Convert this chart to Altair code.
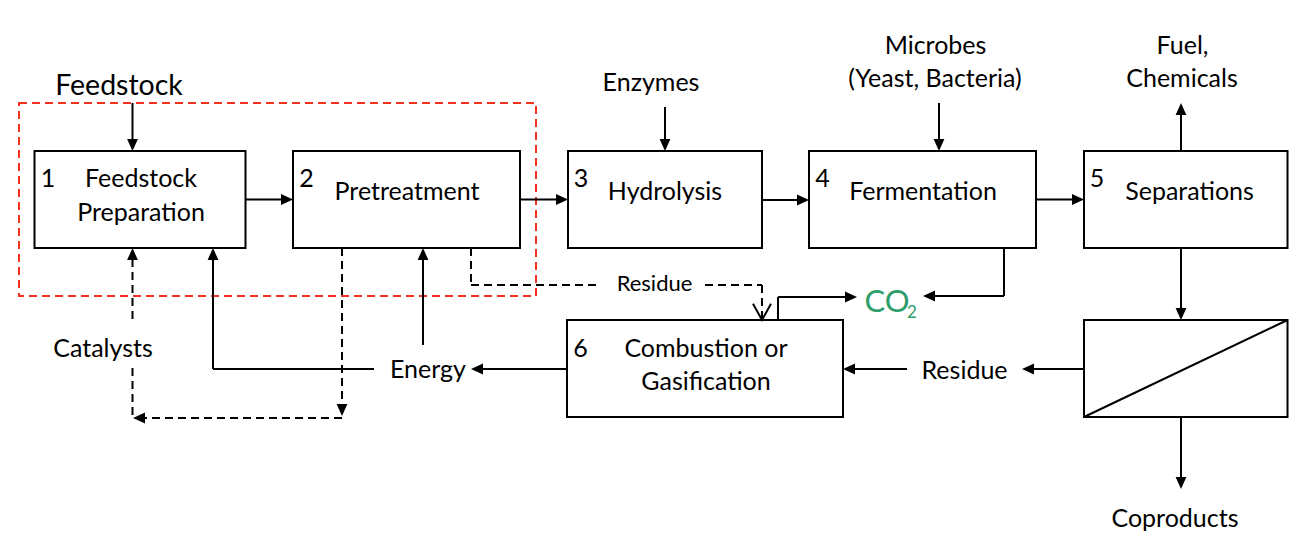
import altair as alt
import pandas as pd

# ---------------- canvas (screen pixel coordinates) ----------------
W, H = 1281, 540
X_DOM = [8, 8 + W]
Y_DOM = [8, 8 + H]
FONT = "Lato"

# ---------------- process boxes ----------------
box_name = ["1", "2", "3", "4", "5", "6", "sep"]
box_x0 = [34.5, 293, 568, 809, 1084, 567, 1084]
box_x1 = [245.5, 520, 762, 1036, 1287.5, 843, 1287.5]
box_y0 = [151, 151, 151, 151, 151, 320, 320]
box_y1 = [248, 248, 248, 248, 248, 417, 417]

# red dashed frame (steps 1-2)
frame_x0, frame_x1, frame_y0, frame_y1 = [19], [536], [103], [296]

# ---------------- solid connectors ----------------
sol_x = [132.5, 245, 520, 665, 762, 939, 1036, 1181, 1181, 1181, 1084, 907, 567, 374, 213, 423, 778, 778, 1004, 1004, 1084]
sol_y = [103, 199.5, 199.5, 107, 200, 103, 199.5, 151, 248, 417, 369, 369, 369, 369, 369, 345, 320, 297, 248, 296, 417]
sol_x2 = [132.5, 287, 562, 665, 803, 939, 1078, 1181, 1181, 1181, 1028, 849, 477, 213, 213, 423, 778, 851, 1004, 929, 1287.5]
sol_y2 = [145, 199.5, 199.5, 145, 200, 145, 199.5, 109, 314, 483, 369, 369, 369, 369, 254, 254, 297, 297, 296, 296, 320]

# ---------------- dashed connectors ----------------
dash_x = [132.5, 132.5, 342, 342, 471, 471, 705, 762]
dash_y = [319, 368, 248, 418, 248, 285, 285, 285]
dash_x2 = [132.5, 132.5, 342, 139, 471, 597, 762, 762]
dash_y2 = [254, 418, 410, 418, 285, 285, 285, 318]

# ---------------- arrowheads (tip position + direction) ----------------
arrow_x = [132.5, 665, 939, 1181, 1181, 342, 1181, 213, 423, 132.5, 293, 568, 809, 1084, 857, 1022, 843, 471, 923, 133]
arrow_y = [151, 151, 151, 320, 489, 416, 103, 248, 248, 248, 199.5, 199.5, 200, 199.5, 297, 369, 369, 369, 296, 418]
arrow_dir = ["down"] * 6 + ["up"] * 4 + ["right"] * 5 + ["left"] * 5

# open V arrowhead of the dashed residue line
vhead_x, vhead_y = [762], [320]

# ---------------- labels ----------------
lab_text = ["Feedstock", "1", "Feedstock", "Preparation", "2", "Pretreatment",
            "Enzymes", "3", "Hydrolysis", "Microbes", "(Yeast, Bacteria)", "4",
            "Fermentation", "Fuel,", "Chemicals", "5", "Separations", "Residue",
            "CO", "2", "Catalysts", "Energy", "6", "Combustion or", "Gasification",
            "Residue", "Coproducts"]
lab_x = [119, 48, 141, 141, 306.5, 407, 651, 581, 665, 935.5, 935, 822.5, 923,
         1182.5, 1182, 1097, 1189.5, 654.5, 887, 912, 103, 428, 580.5, 706, 706,
         964.5, 1175]
lab_y = [95, 187, 187, 221, 187, 199.5, 91, 187, 200, 54, 87, 187, 200, 54, 87,
         187, 200, 291, 311.5, 318, 357, 378, 357, 357, 390, 379, 527]
lab_size = [28.5, 25, 25, 25, 25, 25, 25, 25, 25, 25, 25, 25, 25, 25, 25, 25, 25,
            22, 31, 17, 25, 25, 25, 25, 25, 25, 25]
GREEN = "#2e9e6a"
lab_color = ["black"] * 18 + [GREEN, GREEN] + ["black"] * 7

# ---------------- build tables ----------------
xs = alt.Scale(domain=X_DOM, nice=False, zero=False)
ys = alt.Scale(domain=Y_DOM, nice=False, zero=False, reverse=True)


def X(f):
    return alt.X(f, type="quantitative", scale=xs, axis=None)


def Y(f):
    return alt.Y(f, type="quantitative", scale=ys, axis=None)


boxes = pd.DataFrame({"name": box_name, "x": box_x0, "x2": box_x1, "y": box_y0, "y2": box_y1})
frame = pd.DataFrame({"x": frame_x0, "x2": frame_x1, "y": frame_y0, "y2": frame_y1})
solid = pd.DataFrame({"x": sol_x, "y": sol_y, "x2": sol_x2, "y2": sol_y2})
dashed = pd.DataFrame({"x": dash_x, "y": dash_y, "x2": dash_x2, "y2": dash_y2})

HALF = 6
paths = {
    "down": "M-0.9,-1L0.9,-1L0,1Z",
    "up": "M-0.9,1L0.9,1L0,-1Z",
    "right": "M-1,-0.9L-1,0.9L1,0Z",
    "left": "M1,-0.9L1,0.9L-1,0Z",
}
dx = {"down": 0, "up": 0, "right": -HALF, "left": HALF}
dy = {"down": -HALF, "up": HALF, "right": 0, "left": 0}
arrows = pd.DataFrame({
    "x": [a + dx[d] for a, d in zip(arrow_x, arrow_dir)],
    "y": [b + dy[d] for b, d in zip(arrow_y, arrow_dir)],
    "shape": [paths[d] for d in arrow_dir],
})
vhead = pd.DataFrame({"x": vhead_x, "y": [v - 9 for v in vhead_y]})
labels = pd.DataFrame({"text": lab_text, "x": lab_x, "y": lab_y, "fs": lab_size, "col": lab_color})

# ---------------- layers ----------------
frame_layer = alt.Chart(frame).mark_rect(
    fillOpacity=0, stroke="#f4311f", strokeWidth=2, strokeDash=[8, 5]
).encode(x=X("x"), x2="x2", y=Y("y"), y2="y2")

solid_layer = alt.Chart(solid).mark_rule(color="black", strokeWidth=2).encode(
    x=X("x"), y=Y("y"), x2="x2", y2="y2")

dashed_layer = alt.Chart(dashed).mark_rule(color="black", strokeWidth=2, strokeDash=[8, 5]).encode(
    x=X("x"), y=Y("y"), x2="x2", y2="y2")

box_layer = alt.Chart(boxes).mark_rect(fill="white", fillOpacity=0, stroke="black", strokeWidth=2).encode(
    x=X("x"), x2="x2", y=Y("y"), y2="y2")

arrow_layer = alt.Chart(arrows).mark_point(filled=True, color="black", opacity=1, size=144).encode(
    x=X("x"), y=Y("y"), shape=alt.Shape("shape:N", scale=None))

vhead_layer = alt.Chart(vhead).mark_point(
    filled=False, color="black", opacity=1, size=324, strokeWidth=2,
    shape="M-1,-0.8L0,1L1,-0.8"
).encode(x=X("x"), y=Y("y"))

text_layer = alt.Chart(labels).mark_text(font=FONT, baseline="alphabetic", align="center").encode(
    x=X("x"), y=Y("y"), text="text:N",
    size=alt.Size("fs:Q", scale=None),
    color=alt.Color("col:N", scale=None))

chart = alt.layer(
    frame_layer, solid_layer, dashed_layer, box_layer, arrow_layer, vhead_layer, text_layer
).properties(
    width=W, height=H, padding=0, autosize="none", background="white"
).configure_view(strokeWidth=0)

chart.save("out.html", embed_options={"renderer": "svg", "actions": False})
